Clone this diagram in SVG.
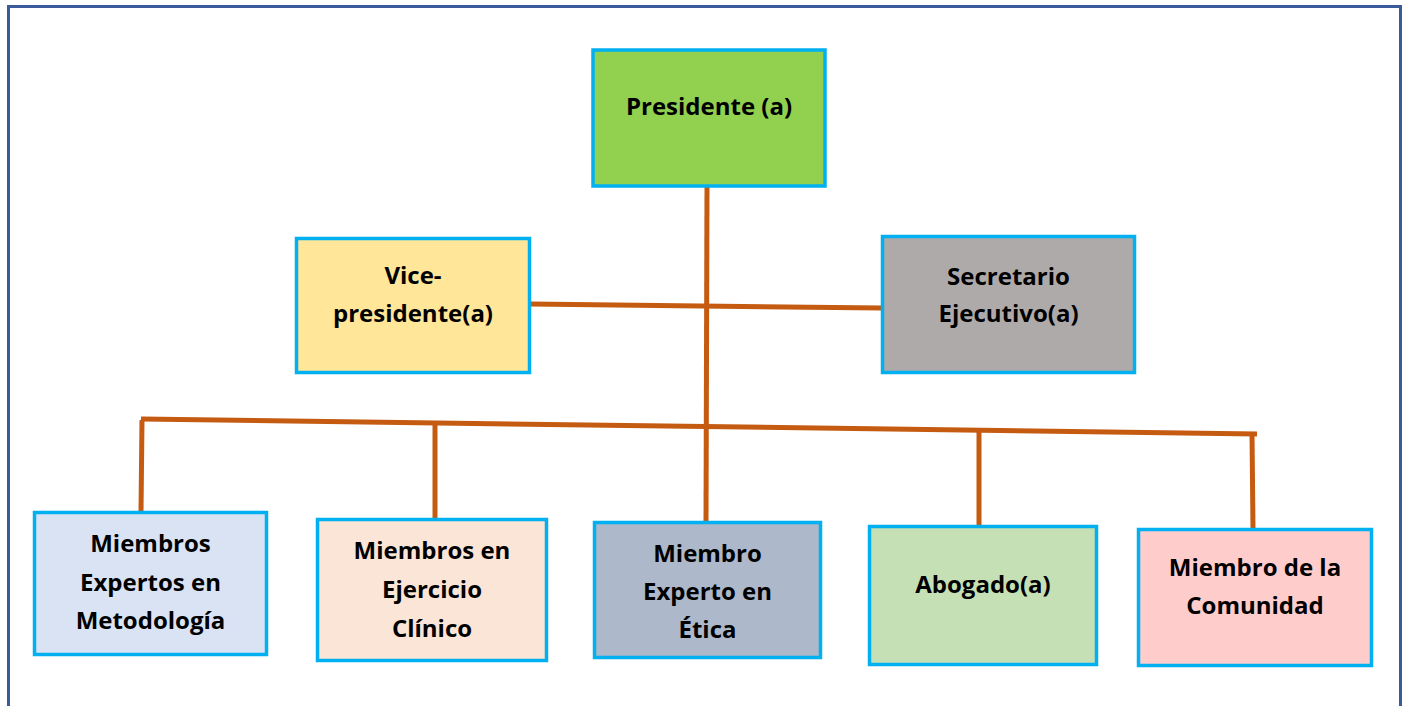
<svg xmlns="http://www.w3.org/2000/svg" width="1406" height="706" viewBox="0 0 1406 706">
  <defs>
    <style>
      .box { stroke: #00B0F0; stroke-width: 3.5; }
      .lbl { font-family: "Open Sans", "Noto Sans", "Liberation Sans", sans-serif; font-weight: 700; font-size: 24px; fill: #000; text-anchor: middle; }
      .con { stroke: #C55A11; stroke-width: 5; fill: none; stroke-linecap: butt; }
    </style>
  </defs>
  <rect x="0" y="0" width="1406" height="706" fill="#FFFFFF"/>
  <rect x="8.5" y="6.5" width="1392" height="720" fill="none" stroke="#3B5A9A" stroke-width="3"/>

  <g id="connectors">
    <line class="con" x1="707" y1="187" x2="706" y2="524"/>
    <line class="con" x1="530" y1="304" x2="882" y2="308"/>
    <line class="con" x1="141" y1="419" x2="1257" y2="434"/>
    <line class="con" x1="142" y1="420" x2="141" y2="512"/>
    <line class="con" x1="435" y1="424" x2="435" y2="519"/>
    <line class="con" x1="979" y1="431" x2="979" y2="526"/>
    <line class="con" x1="1252" y1="434" x2="1253" y2="529"/>
  </g>

  <g id="presidente">
    <rect class="box" x="593" y="50" width="232" height="136" fill="#92D050"/>
    <text class="lbl" x="709" y="115">Presidente (a)</text>
  </g>

  <g id="vicepresidente">
    <rect class="box" x="296.5" y="238.5" width="233" height="134" fill="#FFE699"/>
    <text class="lbl" x="413" y="284">Vice-</text>
    <text class="lbl" x="413" y="322">presidente(a)</text>
  </g>

  <g id="secretario">
    <rect class="box" x="882.5" y="236.5" width="252" height="136" fill="#AEAAAA"/>
    <text class="lbl" x="1008.5" y="285">Secretario</text>
    <text class="lbl" x="1008.5" y="322">Ejecutivo(a)</text>
  </g>

  <g id="metodologia">
    <rect class="box" x="34.5" y="512.5" width="232" height="142" fill="#DAE3F3"/>
    <text class="lbl" x="150.5" y="552">Miembros</text>
    <text class="lbl" x="150.5" y="591">Expertos en</text>
    <text class="lbl" x="150.5" y="629">Metodología</text>
  </g>

  <g id="clinico">
    <rect class="box" x="317.5" y="519.5" width="229" height="141" fill="#FBE5D6"/>
    <text class="lbl" x="432" y="559">Miembros en</text>
    <text class="lbl" x="432" y="598">Ejercicio</text>
    <text class="lbl" x="432" y="637">Clínico</text>
  </g>

  <g id="etica">
    <rect class="box" x="594.5" y="522.5" width="226" height="135" fill="#ADB9CA"/>
    <text class="lbl" x="707.5" y="562">Miembro</text>
    <text class="lbl" x="707.5" y="600">Experto en</text>
    <text class="lbl" x="707.5" y="638">Ética</text>
  </g>

  <g id="abogado">
    <rect class="box" x="869.5" y="526.5" width="227" height="138" fill="#C5E0B4"/>
    <text class="lbl" x="983" y="593">Abogado(a)</text>
  </g>

  <g id="comunidad">
    <rect class="box" x="1138.5" y="529.5" width="233" height="136" fill="#FFCCCC"/>
    <text class="lbl" x="1255" y="576">Miembro de la</text>
    <text class="lbl" x="1255" y="614">Comunidad</text>
  </g>
</svg>
